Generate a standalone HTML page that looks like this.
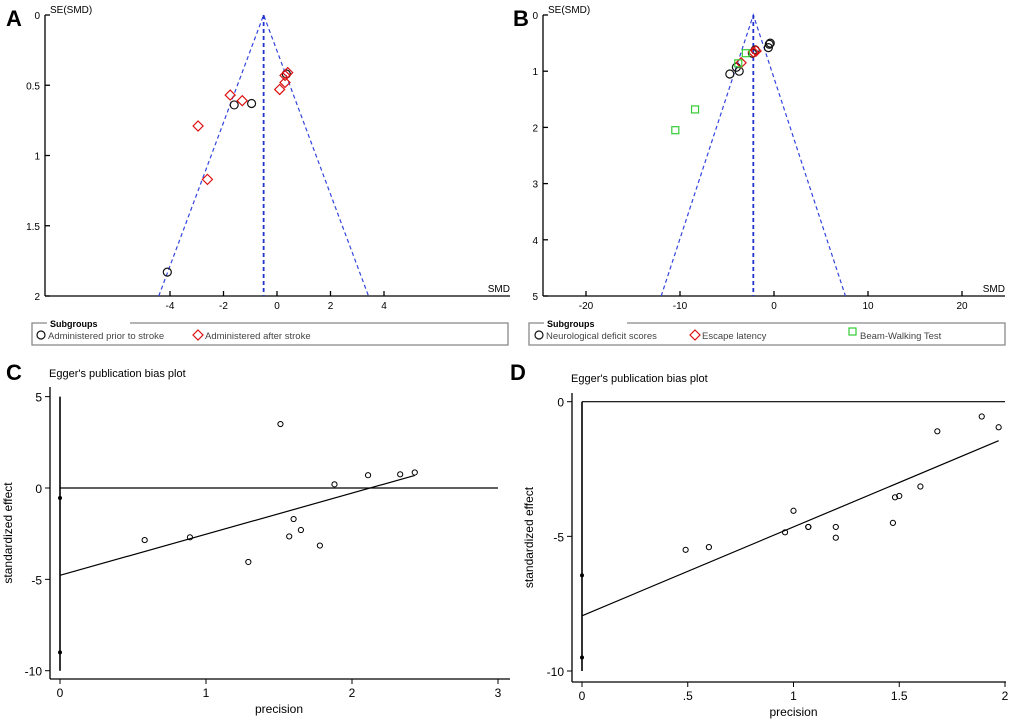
<!DOCTYPE html>
<html><head><meta charset="utf-8"><style>
html,body{margin:0;padding:0;background:#fff;}
svg{display:block;font-family:"Liberation Sans",Arial,sans-serif;}
</style></head><body>
<svg id="fig" width="1020" height="719" viewBox="0 0 1020 719">
<g id="gA"></g>
<g id="gB"></g>
<g id="gC"></g>
<g id="gD"></g>
<text x="6" y="26" font-size="22" font-weight="bold">A</text>
<text x="513" y="26" font-size="22" font-weight="bold">B</text>
<text x="6" y="380" font-size="22" font-weight="bold">C</text>
<text x="510" y="380" font-size="22" font-weight="bold">D</text>
</svg>
<script>
// Panel A data
const aCircSMD=[-4.1,-1.6,-0.95,0.35];
const aCircSE=[1.83,0.64,0.63,0.42];
const aDiaSMD=[-1.75,-1.3,-2.95,-2.6,0.1,0.3,0.3,0.4];
const aDiaSE=[0.57,0.61,0.79,1.17,0.53,0.48,0.43,0.41];
const aPooled=-0.5;
const aXTicks=[-4,-2,0,2,4];
const aYTicks=[0,0.5,1,1.5,2];
const aYLabels=["0","0.5","1","1.5","2"];
// Panel B data
const bCircSMD=[-4.7,-4,-3.7,-2,-0.5,-0.4,-0.6,-2.3];
const bCircSE=[1.05,0.93,1.0,0.62,0.52,0.5,0.58,0.68];
const bDiaSMD=[-3.5,-2.2,-1.9];
const bDiaSE=[0.85,0.66,0.64];
const bSqSMD=[-10.5,-8.4,-3.8,-3];
const bSqSE=[2.05,1.68,0.86,0.68];
const bPooled=-2.2;
const bXTicks=[-20,-10,0,10,20];
const bYTicks=[0,1,2,3,4,5];
// Panel C data
const cPrec=[0.58,0.89,1.29,1.51,1.57,1.60,1.65,1.78,1.88,2.11,2.33,2.43];
const cEff=[-2.85,-2.7,-4.05,3.5,-2.65,-1.7,-2.3,-3.15,0.2,0.7,0.75,0.85];
const cIntercept=-4.78, cSlope=2.25, cCI=[-0.55,-9.0];
const cXTicks=[0,1,2,3];
const cYTicks=[5,0,-5,-10];
// Panel D data
const dPrec=[0.49,0.6,0.96,1.0,1.07,1.07,1.2,1.2,1.47,1.48,1.5,1.6,1.68,1.89,1.97];
const dEff=[-5.5,-5.4,-4.85,-4.05,-4.65,-4.65,-4.65,-5.05,-4.5,-3.55,-3.5,-3.15,-1.1,-0.55,-0.95];
const dIntercept=-7.95, dSlope=3.3, dCI=[-6.45,-9.5];
const dXTicks=[0,0.5,1,1.5,2];
const dXLabels=["0",".5","1","1.5","2"];
const dYTicks=[0,-5,-10];

const NS="http://www.w3.org/2000/svg";
function el(p,t,a,txt){const e=document.createElementNS(NS,t);for(const k in a)e.setAttribute(k,a[k]);if(txt!==undefined)e.textContent=txt;p.appendChild(e);return e;}

function funnel(g,o){
  const X=v=>o.x0+(v-o.xv0)*o.kx, Y=v=>o.y0+v*o.ky;
  let e;
  e=el(g,'line',{x1:o.ax,y1:Y(0),x2:o.ax,y2:Y(o.ymax),stroke:'#000','stroke-width':1.3});
  
  e=el(g,'line',{x1:o.ax,y1:Y(o.ymax),x2:o.xend,y2:Y(o.ymax),stroke:'#000','stroke-width':1.3});
  
  o.yt.forEach((v,i)=>{
    el(g,'line',{x1:o.ax,y1:Y(v),x2:o.ax+5,y2:Y(v),stroke:'#000','stroke-width':1.3});
    e=el(g,'text',{x:o.ax-5,y:Y(v)+4,'font-size':10,'text-anchor':'end'},o.yl?o.yl[i]:String(v));
    
  });
  o.xt.forEach(v=>{
    el(g,'line',{x1:X(v),y1:Y(o.ymax),x2:X(v),y2:Y(o.ymax)-5,stroke:'#000','stroke-width':1.3});
    e=el(g,'text',{x:X(v),y:Y(o.ymax)+13,'font-size':10,'text-anchor':'middle'},String(v));
    
  });
  e=el(g,'text',{x:o.ax+5,y:Y(0)-2,'font-size':10},'SE(SMD)');
  
  e=el(g,'text',{x:o.xend,y:Y(o.ymax)-4,'font-size':10,'text-anchor':'end'},'SMD');
  
  const p=o.pooled, w=1.96*o.ymax;
  e=el(g,'polyline',{points:`${X(p-w)},${Y(o.ymax)} ${X(p)},${Y(0)} ${X(p+w)},${Y(o.ymax)}`,fill:'none',stroke:'#3344dd','stroke-width':1.2,'stroke-dasharray':'4,3'});
  
  e=el(g,'line',{x1:X(p),y1:Y(0),x2:X(p),y2:Y(o.ymax),stroke:'#2233cc','stroke-width':1.8,'stroke-dasharray':'4,3'});
  
  (o.circ||[[],[]])[0].forEach((v,i)=>{
    e=el(g,'circle',{cx:X(v),cy:Y(o.circ[1][i]),r:4,fill:'none',stroke:'#111','stroke-width':1.2});
    
  });
  (o.dia||[[],[]])[0].forEach((v,i)=>{
    const cx=X(v),cy=Y(o.dia[1][i]);
    e=el(g,'polygon',{points:`${cx},${cy-5} ${cx+5},${cy} ${cx},${cy+5} ${cx-5},${cy}`,fill:'none',stroke:'#dd1111','stroke-width':1.2});
    
  });
  (o.sq||[[],[]])[0].forEach((v,i)=>{
    const cx=X(v),cy=Y(o.sq[1][i]);
    e=el(g,'rect',{x:cx-3.5,y:cy-3.5,width:7,height:7,fill:'none',stroke:'#33cc33','stroke-width':1.2});
    
  });
  // legend
  const lg=el(g,'g',{});
  
  el(lg,'path',{d:`M${o.lx+15},323 L${o.lx},323 L${o.lx},345 L${o.lx2},345 L${o.lx2},323 L${o.lx+98},323`,fill:'none',stroke:'#888','stroke-width':1.3});
  e=el(lg,'text',{x:o.lx+18,y:327,'font-size':9,'font-weight':'bold'},'Subgroups');
  
  o.leg.forEach(L=>{
    const s=L.sym,cx=L.x,cy=335;
    if(s==='c')el(lg,'circle',{cx,cy,r:4,fill:'none',stroke:'#111','stroke-width':1.2});
    if(s==='d')el(lg,'polygon',{points:`${cx},${cy-5} ${cx+5},${cy} ${cx},${cy+5} ${cx-5},${cy}`,fill:'none',stroke:'#dd1111','stroke-width':1.2});
    if(s==='s')el(lg,'rect',{x:cx-4,y:cy-7,width:7,height:7,fill:'none',stroke:'#33cc33','stroke-width':1.2});
    e=el(lg,'text',{x:cx+7,y:cy+4,'font-size':9.5,fill:'#444'},L.t);
    
  });
}

funnel(document.getElementById('gA'),{x0:277,xv0:0,kx:26.75,y0:15,ky:140.5,ymax:2,ax:45,xend:510,
  yt:aYTicks,yl:aYLabels,xt:aXTicks,pooled:aPooled,circ:[aCircSMD,aCircSE],dia:[aDiaSMD,aDiaSE],
  lx:32,lx2:508,leg:[{sym:'c',x:41,t:'Administered prior to stroke'},{sym:'d',x:198,t:'Administered after stroke'}]});
funnel(document.getElementById('gB'),{x0:774,xv0:0,kx:9.4,y0:15,ky:56.2,ymax:5,ax:543,xend:1005,
  yt:bYTicks,xt:bXTicks,pooled:bPooled,circ:[bCircSMD,bCircSE],dia:[bDiaSMD,bDiaSE],sq:[bSqSMD,bSqSE],
  lx:529,lx2:1005,leg:[{sym:'c',x:539,t:'Neurological deficit scores'},{sym:'d',x:695,t:'Escape latency'},{sym:'s',x:853,t:'Beam-Walking Test'}]});

function egger(g,o){
  const X=v=>o.x0+v*o.kx, Y=v=>o.y0-v*o.ky;
  let e;
  e=el(g,'text',{x:o.tx,y:o.ty,'font-size':11},"Egger's publication bias plot");
  
  e=el(g,'line',{x1:o.ax,y1:o.ytop,x2:o.ax,y2:o.ab,stroke:'#000','stroke-width':1.3});
  
  e=el(g,'line',{x1:o.ax,y1:o.ab,x2:o.xend,y2:o.ab,stroke:'#000','stroke-width':1.3});
  
  o.yt.forEach(v=>{
    el(g,'line',{x1:o.ax-5,y1:Y(v),x2:o.ax,y2:Y(v),stroke:'#000','stroke-width':1});
    e=el(g,'text',{x:o.ax-8,y:Y(v)+5,'font-size':12,'text-anchor':'end'},String(v));
    
  });
  o.xt.forEach((v,i)=>{
    el(g,'line',{x1:X(v),y1:o.ab,x2:X(v),y2:o.ab+5,stroke:'#000','stroke-width':1});
    e=el(g,'text',{x:X(v),y:o.ab+18,'font-size':12,'text-anchor':'middle'},o.xl?o.xl[i]:String(v));
    
  });
  e=el(g,'text',{x:X(o.xmid),y:o.ab+34,'font-size':12,'text-anchor':'middle'},'precision');
  
  const ym=(o.ytop+o.ab)/2;
  e=el(g,'text',{x:o.ylx,y:ym,'font-size':12,'text-anchor':'middle',transform:`rotate(-90 ${o.ylx} ${ym})`},'standardized effect');
  
  e=el(g,'line',{x1:X(0),y1:Y(0),x2:X(o.zx),y2:Y(0),stroke:'#000','stroke-width':1.2});
  
  e=el(g,'line',{x1:X(0),y1:Y(o.vtop),x2:X(0),y2:Y(o.vbot),stroke:'#000','stroke-width':1.6});
  
  o.ci.forEach(v=>{
    e=el(g,'circle',{cx:X(0),cy:Y(v),r:2,fill:'#000'});
    
  });
  const xm=Math.max(...o.px);
  e=el(g,'line',{x1:X(0),y1:Y(o.b0),x2:X(xm),y2:Y(o.b0+o.b1*xm),stroke:'#000','stroke-width':1.2});
  
  o.px.forEach((v,i)=>{
    e=el(g,'circle',{cx:X(v),cy:Y(o.py[i]),r:2.6,fill:'none',stroke:'#000','stroke-width':1});
    
  });
}
egger(document.getElementById('gC'),{x0:60,kx:146,y0:488,ky:18.27,ax:50,ab:679,ytop:387,xend:510,tx:49,ty:377,
  yt:cYTicks,xt:cXTicks,xmid:1.5,ylx:12,zx:3,vtop:5,vbot:-10,ci:cCI,b0:cIntercept,b1:cSlope,px:cPrec,py:cEff});
egger(document.getElementById('gD'),{x0:582,kx:211.5,y0:401.7,ky:26.93,ax:572,ab:682,ytop:393,xend:1006,tx:571,ty:382,
  yt:dYTicks,xt:dXTicks,xl:dXLabels,xmid:1,ylx:533,zx:2,vtop:0,vbot:-10,ci:dCI,b0:dIntercept,b1:dSlope,px:dPrec,py:dEff});
</script>
</body></html>
